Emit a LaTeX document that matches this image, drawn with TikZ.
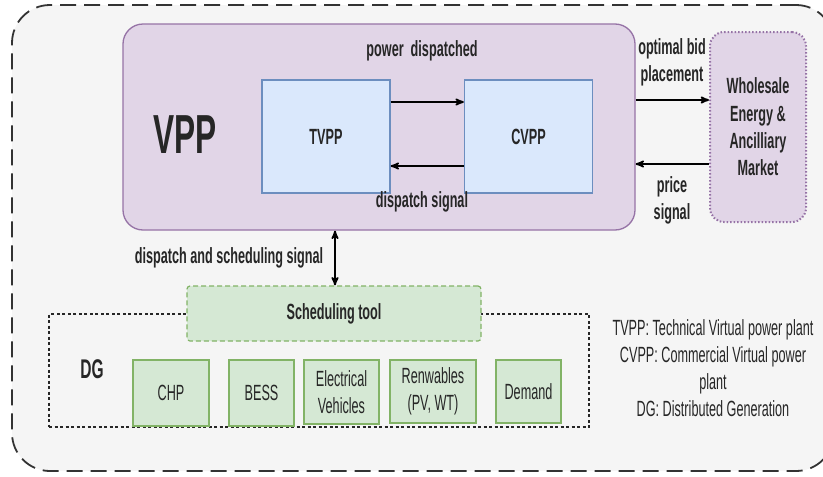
\documentclass[tikz,border=0pt]{standalone}
\usepackage{fontspec}
\setmainfont{Liberation Sans}[FakeStretch=0.575]
\usetikzlibrary{shapes,arrows}
\definecolor{gris}{HTML}{F5F5F5}
\definecolor{mauve}{HTML}{E1D5E7}
\definecolor{mauvefonce}{HTML}{9673A6}
\definecolor{bleu}{HTML}{DAE8FC}
\definecolor{bleufonce}{HTML}{6C8EBF}
\definecolor{vert}{HTML}{D5E8D4}
\definecolor{vertfonce}{HTML}{82B366}

\begin{document}
\begin{tikzpicture}[x=1pt,y=-1pt,font=\fontsize{22}{27}\selectfont,text=black!85]
 % cadre de l'image
  \useasboundingbox (0,0) rectangle (823,477);
 % style des noeuds
  \tikzstyle{cadre}=[rectangle,draw=black!80,fill=gris,line width=1.8pt,dash pattern=on 16pt off 8pt,rounded corners=38pt,minimum width=822pt,minimum height=466pt]
  \tikzstyle{groupe}=[rectangle,draw=mauvefonce,fill=mauve,line width=1.3pt,rounded corners=20pt]
  \tikzstyle{centrale}=[rectangle,draw=bleufonce,fill=bleu,line width=1.3pt,minimum width=128pt,minimum height=113pt,font=\fontsize{22}{27}\selectfont\bfseries]
  \tikzstyle{marche}=[rectangle,draw=mauvefonce,fill=mauve,line width=2pt,dash pattern=on 1.5pt off 2pt,rounded corners=14pt,align=center,font=\fontsize{22}{27.3}\selectfont\bfseries]
  \tikzstyle{outil}=[rectangle,draw=vertfonce,fill=vert,line width=1.2pt,dash pattern=on 5pt off 3pt,rounded corners=3pt,font=\fontsize{22}{27}\selectfont\bfseries]
  \tikzstyle{zone}=[rectangle,draw=black!85,line width=1.2pt,dash pattern=on 3pt off 2.5pt]
  \tikzstyle{source}=[rectangle,draw=vertfonce,fill=vert,line width=1.3pt,align=center]
  \tikzstyle{etiq}=[align=center,inner sep=0pt,font=\fontsize{22}{27}\selectfont\bfseries]
 % style des fleches
  \tikzstyle{suite}=[->,>=stealth',line width=1.8pt]
 % placement des noeuds
  \node[cadre] (fond) at (423,238) {};
  \node[groupe,minimum width=512pt,minimum height=206pt] (vpp) at (379,127) {};
  \node[etiq,font=\fontsize{55}{60}\selectfont\bfseries] (titrevpp) at (185,135) {VPP};
  \node[centrale] (tvpp) at (326,136.5) {TVPP};
  \node[centrale] (cvpp) at (528.5,136.5) {CVPP};
  \node[etiq] (lpuissance) at (422,51) {power\ \ dispatched};
  \node[etiq] (lsignal) at (422,202) {dispatch signal};
  \node[marche,minimum width=96pt,minimum height=190pt] (marche) at (758,127) {Wholesale\\Energy \&\\Ancilliary\\Market};
  \node[etiq] (loffre) at (672,62.5) {optimal bid\\placement};
  \node[etiq] (lprix) at (672,200.5) {price\\signal};
  \node[etiq] (lordo) at (229,258) {dispatch and scheduling signal};
  \node[zone,minimum width=540pt,minimum height=113pt] (dg) at (319,370.5) {};
  \node[outil,minimum width=294pt,minimum height=55pt] (ordo) at (334,313.5) {Scheduling tool};
  \node[etiq,font=\fontsize{27}{30}\selectfont\bfseries] (titredg) at (92,369) {DG};
  \node[source,minimum width=76pt,minimum height=66pt] (chp) at (171,393) {CHP};
  \node[source,minimum width=65pt,minimum height=66pt] (bess) at (261.5,393) {BESS};
  \node[source,minimum width=75pt,minimum height=64pt] (ve) at (341.5,392) {Electrical\\Vehicles};
  \node[source,minimum width=86pt,minimum height=63pt] (renouv) at (433,391.5) {Renwables\\(PV, WT)};
  \node[source,minimum width=65pt,minimum height=63pt] (demande) at (528.5,391.5) {Demand};
  \node[align=center,inner sep=0pt] (legende) at (713,368) {TVPP: Technical Virtual power plant\\CVPP: Commercial Virtual power\\plant\\DG: Distributed Generation};
 % placement des fleches
  \draw[suite] ([yshift=34.5pt]tvpp.east) -- ([yshift=34.5pt]cvpp.west);
  \draw[suite] ([yshift=-29.5pt]cvpp.west) -- ([yshift=-29.5pt]tvpp.east);
  \draw[suite] ([yshift=27pt]vpp.east) -- ([yshift=27pt]marche.west);
  \draw[suite] ([yshift=-37pt]marche.west) -- ([yshift=-37pt]vpp.east);
  \draw[suite,<->] ([xshift=1pt]ordo.north) -- ([xshift=1pt]ordo.north |- vpp.south);
\end{tikzpicture}
\end{document}
